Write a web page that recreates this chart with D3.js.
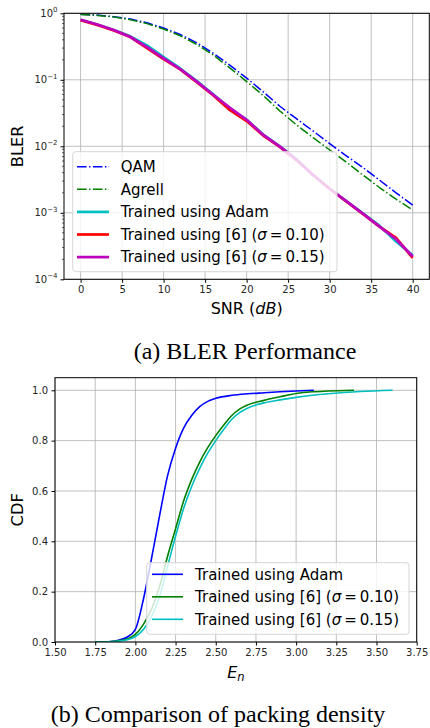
<!DOCTYPE html>
<html><head><meta charset="utf-8">
<script src="https://cdn.jsdelivr.net/npm/d3@7"></script>
<style>body{margin:0;background:#fff}svg{display:block}</style>
</head><body>
<svg id="c" width="430" height="728"></svg>
<script>
// ---------- Data: (a) BLER ----------
const snr = [0,2,4,6,8,10,12,14,16,18,20,22,24,26,28,30,32,34,36,38,40];
const blerQAM    = [0.97,0.94,0.89,0.82,0.72,0.60,0.48,0.36,0.25,0.165,0.106,0.066,0.040,0.026,0.017,0.011,0.0072,0.0048,0.0031,0.0020,0.0013];
const blerAgrell = [0.96,0.93,0.88,0.80,0.70,0.58,0.46,0.34,0.235,0.15,0.094,0.058,0.034,0.021,0.0135,0.0088,0.0058,0.0037,0.0024,0.0016,0.0011];
const blerAdam   = [0.80,0.68,0.56,0.45,0.33,0.22,0.148,0.096,0.060,0.037,0.025,0.0150,0.0100,0.0064,0.0037,0.0023,0.0015,0.00098,0.00064,0.00037,0.00023];
const blerS010   = [0.79,0.67,0.55,0.44,0.30,0.205,0.143,0.092,0.058,0.035,0.024,0.0145,0.0098,0.0062,0.0037,0.0023,0.00148,0.00096,0.00062,0.00042,0.00021];
const blerS015   = [0.80,0.68,0.56,0.44,0.31,0.21,0.145,0.094,0.059,0.038,0.025,0.0148,0.0099,0.0063,0.0037,0.0023,0.0015,0.00097,0.00062,0.00040,0.00022];
const snrTicks = [0,5,10,15,20,25,30,35,40];
const blerTickExp = [0,-1,-2,-3,-4];
const legendA = ["QAM","Agrell","Trained using Adam","Trained using [6] (σ = 0.10)","Trained using [6] (σ = 0.15)"];

// ---------- Data: (b) CDF ----------
const enAdam = [1.75,1.85,1.90,1.95,2.00,2.05,2.10,2.15,2.20,2.25,2.30,2.35,2.40,2.45,2.50,2.60,2.70,2.80,2.90,3.00,3.11];
const cdfAdam = [0,0.002,0.008,0.02,0.05,0.17,0.33,0.50,0.66,0.77,0.85,0.90,0.935,0.956,0.968,0.980,0.986,0.990,0.994,0.997,1.0];
const enS010 = [1.75,1.85,1.90,1.95,2.00,2.05,2.10,2.15,2.20,2.25,2.30,2.35,2.40,2.45,2.50,2.55,2.60,2.65,2.70,2.80,2.90,3.00,3.10,3.20,3.36];
const cdfS010 = [0,0.002,0.006,0.012,0.03,0.07,0.13,0.22,0.34,0.45,0.56,0.645,0.715,0.772,0.82,0.862,0.90,0.926,0.942,0.960,0.974,0.987,0.994,0.997,1.0];
const enS015 = [1.75,1.85,1.90,1.95,2.00,2.05,2.10,2.15,2.20,2.25,2.30,2.35,2.40,2.45,2.50,2.55,2.60,2.65,2.70,2.80,2.90,3.00,3.10,3.20,3.30,3.40,3.60];
const cdfS015 = [0,0.001,0.004,0.009,0.022,0.05,0.10,0.18,0.30,0.42,0.53,0.618,0.69,0.75,0.80,0.845,0.885,0.912,0.930,0.950,0.962,0.972,0.980,0.986,0.991,0.995,1.0];
const enTicks = [1.50,1.75,2.00,2.25,2.50,2.75,3.00,3.25,3.50,3.75];
const cdfTicks = [0.0,0.2,0.4,0.6,0.8,1.0];
const legendB = ["Trained using Adam","Trained using [6] (σ = 0.10)","Trained using [6] (σ = 0.15)"];

const FONT = "DejaVu Sans, sans-serif";
const SERIF = "Liberation Serif, Times New Roman, serif";
const svg = d3.select("#c");

function addLegendText(sel, label){
  const m = label.match(/^(.*)\(σ = (.*)\)$/);
  if(!m){ sel.text(label); return; }
  sel.append("tspan").text(m[1] + "(");
  sel.append("tspan").attr("font-style","italic").text("σ");
  sel.append("tspan").text("\u2009=\u2009" + m[2] + ")");
}

function legend(g, x0, y0, w, h, rowY0, dy, items, hx1, hx2, tx){
  g.append("rect").attr("x",x0).attr("y",y0).attr("width",w).attr("height",h)
    .attr("rx",3).attr("fill","rgba(255,255,255,0.8)").attr("stroke","#d6d6d6").attr("stroke-width",1);
  items.forEach((it,i)=>{
    const y = rowY0 + i*dy;
    g.append("line").attr("x1",hx1).attr("x2",hx2).attr("y1",y).attr("y2",y)
      .attr("stroke",it.color).attr("stroke-width",it.lw).attr("stroke-dasharray",it.dash||null);
    const t = g.append("text").attr("x",tx).attr("y",y+5.3).attr("font-family",FONT)
      .attr("font-size",15).attr("fill","#000");
    addLegendText(t, it.label);
  });
}

// ================= (a) =================
{
  const L=64, R=429.3, T=13.3, B=279.3;
  const x = d3.scaleLinear().domain([-2,42]).range([L,R]);
  const y = d3.scaleLog().domain([1e-4,1]).range([B,T]);
  const g = svg.append("g");
  g.append("defs").append("clipPath").attr("id","clipA").append("rect")
    .attr("x",L).attr("y",T).attr("width",R-L).attr("height",B-T);
  snrTicks.forEach(t=>g.append("line").attr("x1",x(t)).attr("x2",x(t)).attr("y1",T).attr("y2",B)
    .attr("stroke","#b0b0b0").attr("stroke-width",0.8));
  blerTickExp.forEach(e=>g.append("line").attr("x1",L).attr("x2",R).attr("y1",y(Math.pow(10,e))).attr("y2",y(Math.pow(10,e)))
    .attr("stroke","#b0b0b0").attr("stroke-width",0.8));
  const series = [
    {v:blerQAM, color:"#0000ff", lw:1.5, dash:"9.6,2.4,1.5,2.4", label:legendA[0]},
    {v:blerAgrell, color:"#008000", lw:1.5, dash:"9.6,2.4,1.5,2.4", label:legendA[1]},
    {v:blerAdam, color:"#00bfbf", lw:2.7, label:legendA[2]},
    {v:blerS010, color:"#ff0000", lw:2.7, label:legendA[3]},
    {v:blerS015, color:"#bf00bf", lw:2.7, label:legendA[4]}
  ];
  const line = d3.line().x((d,i)=>x(snr[i])).y(d=>y(d));
  const pg = g.append("g").attr("clip-path","url(#clipA)");
  series.forEach(s=>pg.append("path").attr("d",line(s.v)).attr("fill","none")
    .attr("stroke",s.color).attr("stroke-width",s.lw).attr("stroke-dasharray",s.dash||null)
    .attr("stroke-linejoin","round"));
  const ax = g.append("g").attr("transform",`translate(0,${B})`)
    .call(d3.axisBottom(x).tickValues(snrTicks).tickSize(3.5).tickPadding(3.5).tickFormat(d3.format("d")));
  ax.select(".domain").remove();
  ax.selectAll("text").attr("font-family",FONT).attr("font-size",10).attr("fill","#262626");
  ax.selectAll("line").attr("stroke","#000");
  const ay = g.append("g").attr("transform",`translate(${L},0)`)
    .call(d3.axisLeft(y).tickValues(blerTickExp.map(e=>Math.pow(10,e))).tickSize(3.5).tickPadding(3.5).tickFormat(""));
  ay.select(".domain").remove();
  ay.selectAll("line").attr("stroke","#000");
  const minors=[];
  for(let e=-4;e<0;e++) for(let k=2;k<10;k++) minors.push(k*Math.pow(10,e));
  minors.forEach(m=>g.append("line").attr("x1",L-2).attr("x2",L).attr("y1",y(m)).attr("y2",y(m)).attr("stroke","#000").attr("stroke-width",0.6));
  blerTickExp.forEach(e=>{
    const t = g.append("text").attr("x",57.5).attr("y",y(Math.pow(10,e))+3.6).attr("text-anchor","end")
      .attr("font-family",FONT).attr("font-size",10).attr("fill","#262626");
    t.append("tspan").text("10");
    t.append("tspan").attr("dy",-4.5).attr("font-size",7).text(e===0?"0":"\u2212"+(-e));
  });
  g.append("rect").attr("x",L).attr("y",T).attr("width",R-L).attr("height",B-T)
    .attr("fill","none").attr("stroke","#000").attr("stroke-width",1);
  const xl = g.append("text").attr("x",(L+R)/2).attr("y",313.5).attr("text-anchor","middle")
    .attr("font-family",FONT).attr("font-size",16).attr("fill","#000");
  xl.append("tspan").text("SNR (");
  xl.append("tspan").attr("font-style","italic").text("dB");
  xl.append("tspan").text(")");
  g.append("text").attr("transform",`translate(23,${(T+B)/2}) rotate(-90)`).attr("text-anchor","middle")
    .attr("font-family",FONT).attr("font-size",16.3).attr("fill","#000").text("BLER");
  legend(g, 72.7, 151.7, 264.3, 120, 166.7, 22.6, series, 77, 109, 120.7);
  g.append("text").attr("x",245).attr("y",359).attr("text-anchor","middle")
    .attr("font-family",SERIF).attr("font-size",24).attr("fill","#000")
    .text("(a) BLER Performance");
}

// ================= (b) =================
{
  const L=55, R=416.7, T=377.7, B=642;
  const x = d3.scaleLinear().domain([1.5,3.75]).range([L,R]);
  const y = d3.scaleLinear().domain([0,1.05]).range([B,T]);
  const g = svg.append("g");
  g.append("defs").append("clipPath").attr("id","clipB").append("rect")
    .attr("x",L).attr("y",T).attr("width",R-L).attr("height",B-T);
  enTicks.forEach(t=>g.append("line").attr("x1",x(t)).attr("x2",x(t)).attr("y1",T).attr("y2",B)
    .attr("stroke","#b0b0b0").attr("stroke-width",0.8));
  cdfTicks.forEach(t=>g.append("line").attr("x1",L).attr("x2",R).attr("y1",y(t)).attr("y2",y(t))
    .attr("stroke","#b0b0b0").attr("stroke-width",0.8));
  const series = [
    {xs:enAdam, v:cdfAdam, color:"#0000ff", lw:1.6, label:legendB[0]},
    {xs:enS010, v:cdfS010, color:"#008000", lw:1.6, label:legendB[1]},
    {xs:enS015, v:cdfS015, color:"#00bfbf", lw:1.6, label:legendB[2]}
  ];
  const pg = g.append("g").attr("clip-path","url(#clipB)");
  series.forEach(s=>{
    const line = d3.line().curve(d3.curveMonotoneX).x((d,i)=>x(s.xs[i])).y(d=>y(d));
    pg.append("path").attr("d",line(s.v)).attr("fill","none").attr("stroke",s.color).attr("stroke-width",s.lw);
  });
  const ax = g.append("g").attr("transform",`translate(0,${B})`)
    .call(d3.axisBottom(x).tickValues(enTicks).tickSize(3.5).tickPadding(3.5).tickFormat(d3.format(".2f")));
  ax.select(".domain").remove();
  ax.selectAll("text").attr("font-family",FONT).attr("font-size",10).attr("fill","#262626");
  ax.selectAll("line").attr("stroke","#000");
  const ay = g.append("g").attr("transform",`translate(${L},0)`)
    .call(d3.axisLeft(y).tickValues(cdfTicks).tickSize(3.5).tickPadding(3.5).tickFormat(d3.format(".1f")));
  ay.select(".domain").remove();
  ay.selectAll("text").attr("font-family",FONT).attr("font-size",10).attr("fill","#262626");
  ay.selectAll("line").attr("stroke","#000");
  g.append("rect").attr("x",L).attr("y",T).attr("width",R-L).attr("height",B-T)
    .attr("fill","none").attr("stroke","#000").attr("stroke-width",1);
  const xl = g.append("text").attr("x",(L+R)/2).attr("y",677.5).attr("text-anchor","middle")
    .attr("font-family",FONT).attr("font-size",16).attr("fill","#000");
  xl.append("tspan").attr("font-style","italic").text("E");
  xl.append("tspan").attr("font-style","italic").attr("font-size",11.5).attr("dy",3.5).text("n");
  g.append("text").attr("transform",`translate(23,${(T+B)/2}) rotate(-90)`).attr("text-anchor","middle")
    .attr("font-family",FONT).attr("font-size",16.3).attr("fill","#000").text("CDF");
  legend(g, 146.7, 562.7, 262.3, 71.6, 574.3, 22.5, series, 152, 183, 195);
  g.append("text").attr("x",218).attr("y",721.5).attr("text-anchor","middle")
    .attr("font-family",SERIF).attr("font-size",24).attr("fill","#000")
    .text("(b) Comparison of packing density");
}
</script>
</body></html>
